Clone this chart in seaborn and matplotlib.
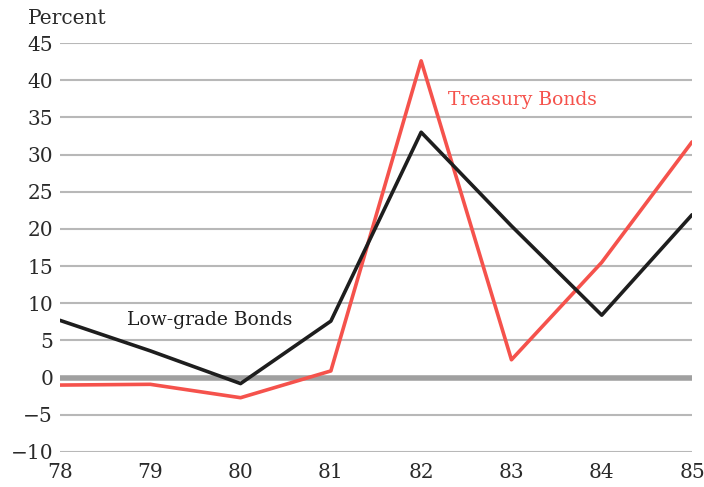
import numpy as np
import matplotlib
matplotlib.use('Agg')
import matplotlib.pyplot as plt
import pandas as pd
import seaborn as sns

years = [78, 79, 80, 81, 82, 83, 84, 85]
low_grade = [7.7, 3.6, -0.8, 7.6, 33.0, 20.4, 8.4, 21.9]
treasury = [-1.0, -0.9, -2.7, 0.9, 42.6, 2.4, 15.5, 31.7]
y_ticks = [-10, -5, 0, 5, 10, 15, 20, 25, 30, 35, 40, 45]

sns.set_style('white')
plt.rcParams['font.family'] = ['DejaVu Serif']

data = pd.DataFrame({'year': years, 'Low-grade Bonds': low_grade, 'Treasury Bonds': treasury})

fig = plt.figure(figsize=(7.04, 4.87), dpi=100)
ax = fig.add_axes([0.0852, 0.0719, 0.8978, 0.8398])

# grid lines
for t in y_ticks:
    if t == 0:
        ax.axhline(t, color='#a0a0a0', lw=4, zorder=1)
    else:
        ax.axhline(t, color='#b8b8b8', lw=1.5, zorder=1)

sns.lineplot(data=data, x='year', y='Treasury Bonds', color='#f5524c', lw=2.6, ax=ax, zorder=3)
sns.lineplot(data=data, x='year', y='Low-grade Bonds', color='#1e1e1e', lw=2.6, ax=ax, zorder=4)

ax.set_xlim(78, 85)
ax.set_ylim(-10, 45)
ax.set_yticks(y_ticks)
ax.set_yticklabels(['\u221210', '\u22125'] + [str(t) for t in y_ticks[2:]], fontsize=14.5, color='#2a2a2a')
ax.set_xticks(years)
ax.set_xticklabels([str(y) for y in years], fontsize=14.5, color='#2a2a2a')
ax.tick_params(axis='y', length=0, pad=5)
ax.tick_params(axis='x', direction='in', length=9, width=1.5, color='#b0b0b0', pad=8)
for s in ax.spines.values():
    s.set_visible(False)
ax.set_xlabel('')
ax.set_ylabel('')

fig.text(0.04, 0.962, 'Percent', fontsize=14.5, color='#2a2a2a', va='center', ha='left')
ax.text(79.66, 7.8, 'Low-grade Bonds', fontsize=13.5, color='#1e1e1e', ha='center', va='center')
ax.text(82.3, 37.4, 'Treasury Bonds', fontsize=13.5, color='#f5524c', ha='left', va='center')

fig.savefig('out.png', dpi=100)
